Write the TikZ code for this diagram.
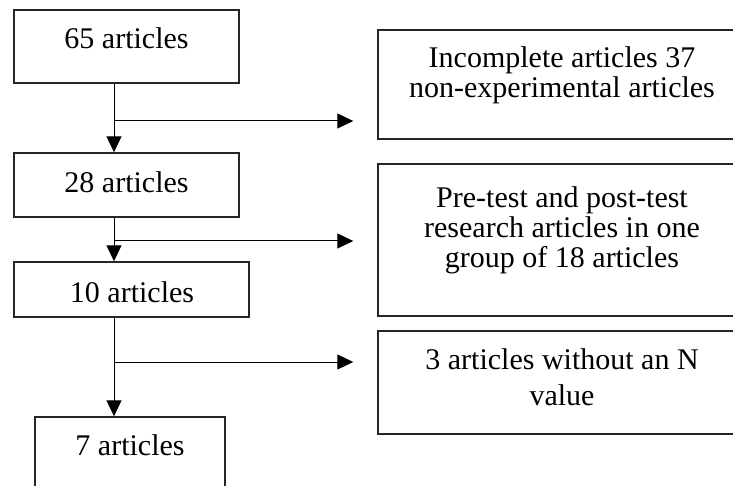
\documentclass[tikz,border=0pt]{standalone}
\usepackage{fontspec}
\setmainfont{Liberation Serif}
\usetikzlibrary{arrows.meta}
\begin{document}
\begin{tikzpicture}[x=1pt,y=-1pt,
  box/.style={draw=black!85,line width=1.4pt,inner sep=0pt},
  txt/.style={inner sep=0pt,anchor=base,font=\fontsize{30}{31}\selectfont},
  flow/.style={draw=black,line width=1pt,-{Triangle[length=16pt,width=15pt]}}]
\useasboundingbox (0,0) rectangle (733,486);
\clip (0,0) rectangle (733,486);
% left boxes
\node[box,minimum width=225pt,minimum height=73pt] (b65) at (126.5,46.5) {};
\node[box,minimum width=225pt,minimum height=64pt] (b28) at (126.5,185) {};
\node[box,minimum width=235pt,minimum height=55pt] (b10) at (131.5,289.5) {};
\node[box,minimum width=190pt,minimum height=90pt] (b7) at (130,462) {};
% right boxes
\node[box,minimum width=368pt,minimum height=109pt] (r1) at (562,84.5) {};
\node[box,minimum width=368pt,minimum height=152pt] (r2) at (562,240) {};
\node[box,minimum width=368pt,minimum height=103pt] (r3) at (562,382.5) {};
% texts
\node[txt] (t65) at (126.5,49) {65 articles};
\node[txt] (t28) at (126.5,193) {28 articles};
\node[txt] (t10) at (132,302) {10 articles};
\node[txt] (t7) at (130,455) {7 articles};
\node[txt] (r1a) at (562,68) {Incomplete articles 37};
\node[txt] (r1b) at (562,98) {non-experimental articles};
\node[txt] (r2a) at (562,208) {Pre-test and post-test};
\node[txt] (r2b) at (562,238) {research articles in one};
\node[txt] (r2c) at (562,268) {group of 18 articles};
\node[txt] (r3a) at (562,369) {3 articles without an N};
\node[txt] (r3b) at (562,405) {value};
% junction points
\coordinate (j1) at (114,121);
\coordinate (j2) at (114,241);
\coordinate (j3) at (114,362);
% connectors
\draw[flow] (b65.south -| j1) -- (b28.north -| j1);
\draw[flow] (b28.south -| j2) -- (b10.north -| j2);
\draw[flow] (b10.south -| j3) -- (b7.north -| j3);
\draw[flow] (j1) -- ([xshift=-24pt]r1.west |- j1);
\draw[flow] (j2) -- ([xshift=-24pt]r2.west |- j2);
\draw[flow] (j3) -- ([xshift=-24pt]r3.west |- j3);
\end{tikzpicture}
\end{document}
